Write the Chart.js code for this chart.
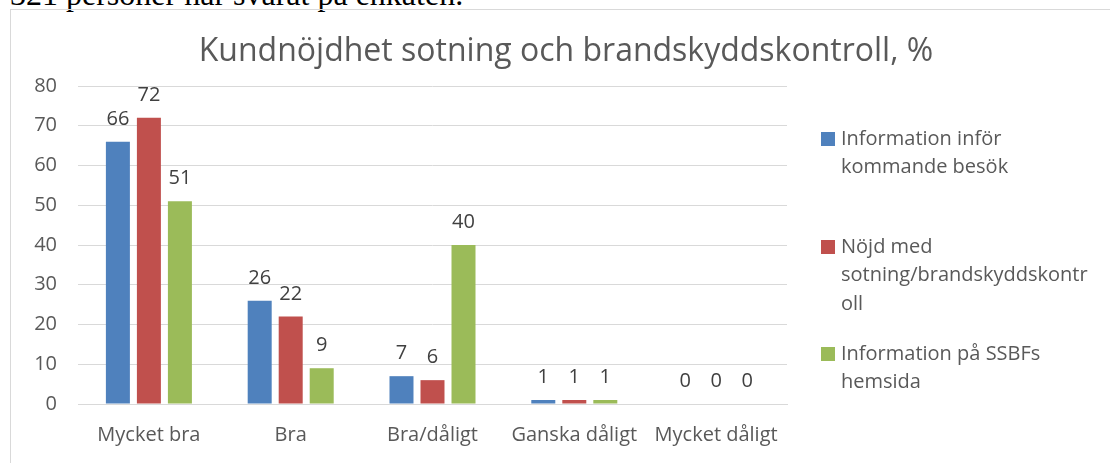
<!DOCTYPE html>
<html>
<head>
<meta charset="utf-8">
<script src="https://cdn.jsdelivr.net/npm/chart.js@4.4.1/dist/chart.umd.min.js"></script>
<style>
  html, body { margin: 0; padding: 0; background: #fff; overflow: hidden; }
  body { width: 1110px; height: 463px; position: relative; }
  #caption { position: absolute; left: 10px; top: -22px; font-family: "Liberation Serif", serif; font-size: 32px; line-height: 32px; color: #000; white-space: nowrap; }
  #frame { position: absolute; left: 10px; top: 9px; width: 1200px; height: 600px; border: 1px solid #d9d9d9; box-sizing: border-box; }
  #wrap { position: absolute; left: 0; top: 0; width: 1110px; height: 463px; }
</style>
</head>
<body>
<div id="caption">321 personer har svarat på enkäten.</div>
<div id="frame"></div>
<div id="wrap"><canvas id="c" width="1110" height="463"></canvas></div>
<script>
const chartTitle = "Kundnöjdhet sotning och brandskyddskontroll, %";
const categories = ["Mycket bra", "Bra", "Bra/dåligt", "Ganska dåligt", "Mycket dåligt"];
const seriesNames = ["Information inför kommande besök", "Nöjd med sotning/brandskyddskontroll", "Information på SSBFs hemsida"];
const legendLines = [["Information inför", "kommande besök"], ["Nöjd med", "sotning/brandskyddskontr", "oll"], ["Information på SSBFs", "hemsida"]];
const infoBesok = [66, 26, 7, 1, 0];
const nojdSotning = [72, 22, 6, 1, 0];
const infoHemsida = [51, 9, 40, 1, 0];
const yTicks = [0, 10, 20, 30, 40, 50, 60, 70, 80];
const colors = ["#4f81bd", "#c0504d", "#9bbb59"];

const FONT = "'Open Sans', sans-serif";
const TEXT = "#595959";

const overlay = {
  id: "overlay",
  afterDatasetsDraw(chart) {
    const ctx = chart.ctx;
    ctx.save();
    // title
    ctx.fillStyle = TEXT;
    ctx.font = "32px " + FONT;
    ctx.textAlign = "center";
    ctx.textBaseline = "middle";
    ctx.fillText(chartTitle, 566, 52);
    // data labels
    ctx.font = "20px " + FONT;
    ctx.fillStyle = "#404040";
    ctx.textBaseline = "alphabetic";
    chart.data.datasets.forEach((ds, i) => {
      const meta = chart.getDatasetMeta(i);
      meta.data.forEach((bar, j) => {
        ctx.fillText(String(ds.data[j]), bar.x, bar.y - 17);
      });
    });
    // legend
    const starts = [139, 247, 354];
    const lh = 28.5;
    ctx.textAlign = "left";
    ctx.textBaseline = "middle";
    ctx.font = "20px " + FONT;
    chart.data.datasets.forEach((ds, i) => {
      const y0 = starts[i];
      ctx.fillStyle = ds.backgroundColor;
      ctx.fillRect(821, y0 - 7, 14, 14);
      ctx.fillStyle = TEXT;
      legendLines[i].forEach((line, k) => {
        ctx.fillText(line, 841, y0 + k * lh);
      });
    });
    ctx.restore();
  }
};

new Chart(document.getElementById("c"), {
  type: "bar",
  data: {
    labels: categories,
    datasets: [
      { label: seriesNames[0], data: infoBesok, backgroundColor: colors[0] },
      { label: seriesNames[1], data: nojdSotning, backgroundColor: colors[1] },
      { label: seriesNames[2], data: infoHemsida, backgroundColor: colors[2] }
    ]
  },
  options: {
    responsive: false,
    animation: false,
    events: [],
    datasets: { bar: { categoryPercentage: 0.656, barPercentage: 0.774 } },
    layout: { padding: { left: 0, right: 323, top: 86, bottom: 0 } },
    plugins: { legend: { display: false }, title: { display: false }, tooltip: { enabled: false } },
    scales: {
      x: {
        grid: { display: false, drawTicks: false },
        border: { display: true, color: "#d9d9d9", width: 1 },
        ticks: { color: TEXT, font: { family: FONT, size: 20 }, padding: 19, maxRotation: 0, autoSkip: false },
        afterFit(s) { s.height = 59; }
      },
      y: {
        min: 0, max: 80,
        afterBuildTicks(s) { s.ticks = yTicks.map(v => ({ value: v })); },
        grid: { color: "#d9d9d9", lineWidth: 1, drawTicks: false },
        border: { display: false },
        ticks: { color: TEXT, font: { family: FONT, size: 20 }, padding: 21 },
        afterFit(s) { s.width = 78; }
      }
    }
  },
  plugins: [overlay]
});
</script>
</body>
</html>
